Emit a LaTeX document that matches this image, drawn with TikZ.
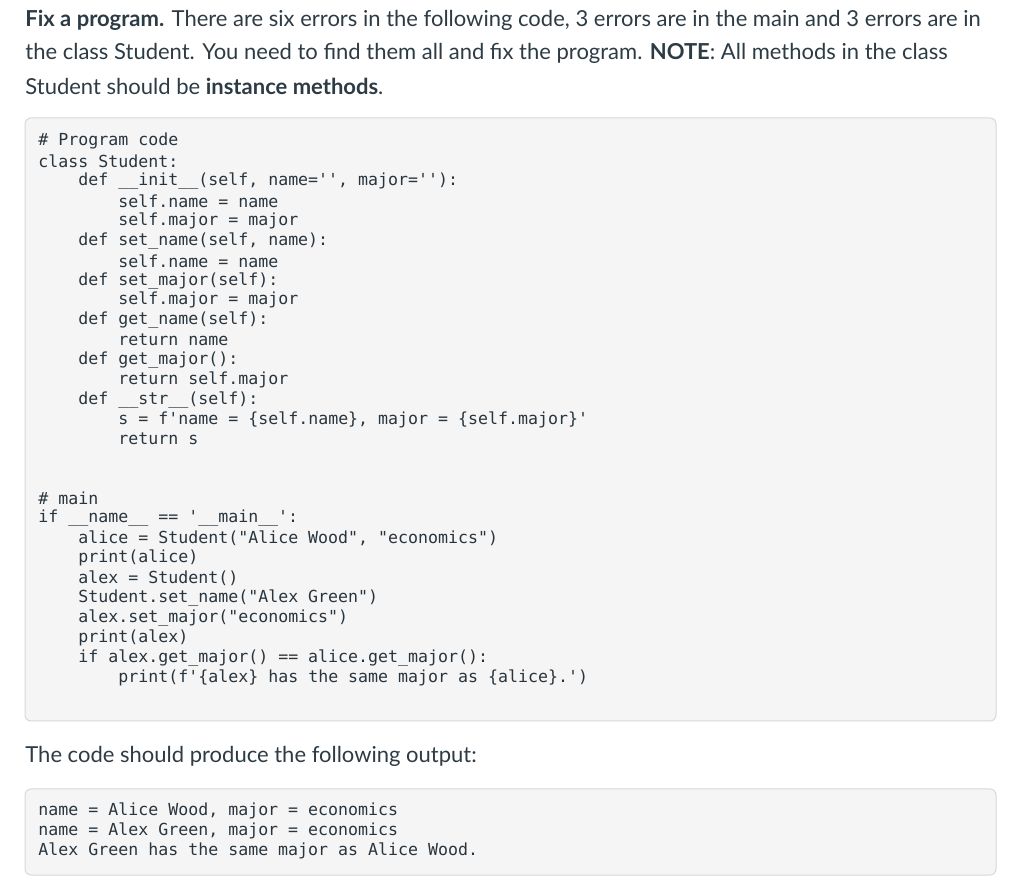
\documentclass[tikz,border=0pt]{standalone}
\usepackage{fontspec}
\setmainfont{Lato}
\setmonofont{DejaVu Sans Mono}
\usetikzlibrary{positioning}
\definecolor{inktext}{HTML}{2D3B45}
\definecolor{codebg}{HTML}{F5F5F5}
\definecolor{codeline}{HTML}{D8D8D8}
\tikzset{
  para/.style={anchor=west,inner sep=0pt,text=inktext,font=\fontsize{11}{13}\selectfont},
  code/.style={anchor=west,inner sep=0pt,text=inktext!90!black,font=\ttfamily\fontsize{8.3}{10}\selectfont},
  codebox/.style={draw=codeline,fill=codebg,rounded corners=3pt,line width=0.5pt}
}
\begin{document}
\begin{tikzpicture}[x=0.5pt,y=-0.5pt]
\useasboundingbox (0,0) rectangle (1024,887);
% question text
\node[para] (h1) at (25,20) {\textbf{Fix a program.} There are six errors in the following code, 3 errors are in the main and 3 errors are in};
\node[para] (h2) at (25,53) {the class Student. You need to find them all and fix the program. \textbf{NOTE}: All methods in the class};
\node[para] (h3) at (25,86) {Student should be \textbf{instance methods}.};
% program box
\draw[codebox] (25,118) rectangle (996,721);
\node[code] (c1) at (38,141) {\# Program code};
\node[code] (c2) at (38,161) {class Student:};
\node[code] (c3) at (78,181) {def \_\_init\_\_(self, name='', major=''):};
\node[code] (c4) at (118,201) {self.name = name};
\node[code] (c5) at (118,221) {self.major = major};
\node[code] (c6) at (78,241) {def set\_name(self, name):};
\node[code] (c7) at (118,261) {self.name = name};
\node[code] (c8) at (78,281) {def set\_major(self):};
\node[code] (c9) at (118,300) {self.major = major};
\node[code] (c10) at (78,320) {def get\_name(self):};
\node[code] (c11) at (118,340) {return name};
\node[code] (c12) at (78,360) {def get\_major():};
\node[code] (c13) at (118,380) {return self.major};
\node[code] (c14) at (78,400) {def \_\_str\_\_(self):};
\node[code] (c15) at (118,420) {s = f'name = \{self.name\}, major = \{self.major\}'};
\node[code] (c16) at (118,439) {return s};
\node[code] (m1) at (38,498) {\# main};
\node[code] (m2) at (38,518) {if \_\_name\_\_ == '\_\_main\_\_':};
\node[code] (m3) at (78,538) {alice = Student("Alice Wood", "economics")};
\node[code] (m4) at (78,558) {print(alice)};
\node[code] (m5) at (78,578) {alex = Student()};
\node[code] (m6) at (78,598) {Student.set\_name("Alex Green")};
\node[code] (m7) at (78,618) {alex.set\_major("economics")};
\node[code] (m8) at (78,638) {print(alex)};
\node[code] (m9) at (78,658) {if alex.get\_major() == alice.get\_major():};
\node[code] (m10) at (118,678) {print(f'\{alex\} has the same major as \{alice\}.')};
% output
\node[para] (o0) at (25,756) {The code should produce the following output:};
\draw[codebox] (25,789) rectangle (996,875);
\node[code] (o1) at (38,811) {name = Alice Wood, major = economics};
\node[code] (o2) at (38,831) {name = Alex Green, major = economics};
\node[code] (o3) at (38,851) {Alex Green has the same major as Alice Wood.};
\end{tikzpicture}
\end{document}
